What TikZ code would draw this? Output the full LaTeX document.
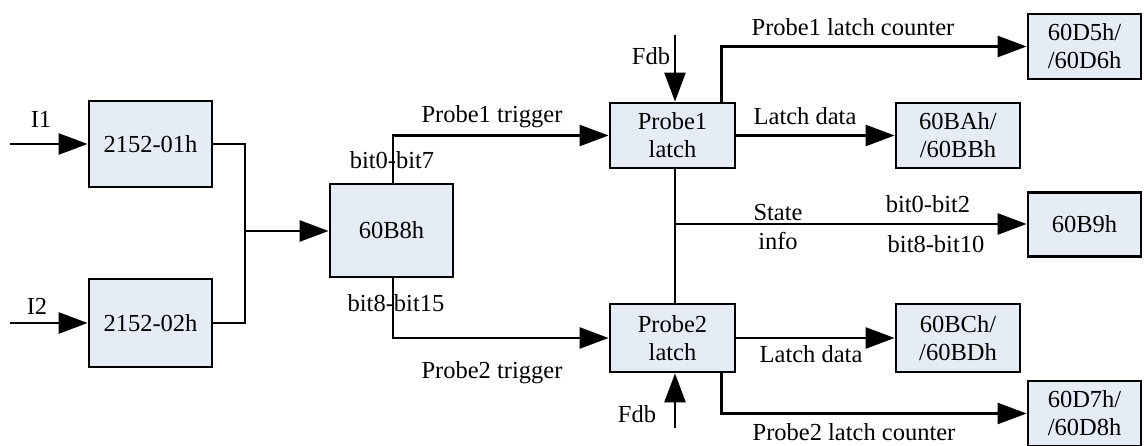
\documentclass[tikz,border=0pt]{standalone}
\usepackage{fontspec}
\setmainfont{Liberation Serif}
\usetikzlibrary{arrows.meta,positioning,calc}
\definecolor{blkfill}{HTML}{E6ECF6}

\begin{document}
\begin{tikzpicture}[
    x=1pt, y=-1pt,
    font=\fontsize{24.5}{28}\selectfont,
    blk/.style={draw, line width=2.8pt, fill=blkfill, align=center, inner sep=0pt},
    wire/.style={line width=2.6pt},
    sig/.style={wire, -{Triangle[length=29pt,width=21pt]}},
    lbl/.style={inner sep=0pt, anchor=base}
]
    \useasboundingbox (0,0) rectangle (1144,446);

    % blocks
    \node[blk, minimum width=123pt, minimum height=86pt] (r01) at (150.5,144) {2152-01h};
    \node[blk, minimum width=123pt, minimum height=88pt] (r02) at (150.5,323) {2152-02h};
    \node[blk, minimum width=123pt, minimum height=93pt] (b8) at (391.5,230.5) {60B8h};
    \node[blk, minimum width=125pt, minimum height=65pt] (p1) at (672.5,135.5) {Probe1\\latch};
    \node[blk, minimum width=125pt, minimum height=68pt] (p2) at (672.5,338) {Probe2\\latch};
    \node[blk, minimum width=124pt, minimum height=65pt] (ba) at (958,135.5) {60BAh/\\/60BBh};
    \node[blk, minimum width=124pt, minimum height=68pt] (bc) at (958,338) {60BCh/\\/60BDh};
    \node[blk, minimum width=113pt, minimum height=65pt] (d5) at (1084.5,46.5) {60D5h/\\/60D6h};
    \node[blk, minimum width=113pt, minimum height=64pt] (b9) at (1084.5,224.5) {60B9h};
    \node[blk, minimum width=113pt, minimum height=65pt] (d7) at (1084.5,413.5) {60D7h/\\/60D8h};

    \coordinate (in1) at (10,144);
    \coordinate (in2) at (10,323);
    \coordinate (jn) at (245,231);
    \coordinate (fdbA) at (675,35);
    \coordinate (fdbB) at (675,428);
    \coordinate (st) at (675,224);

    % inputs
    \draw[sig] (in1) -- (r01);
    \draw[sig] (in2) -- (r02);
    \draw[wire] (r01.east) -| (jn);
    \draw[wire] (r02.east) -| (jn);
    \draw[sig] (jn) -- (jn -| b8.west);

    % triggers
    \draw[sig] ([xshift=1.5pt]b8.north) |- (p1.west);
    \draw[sig] ([xshift=1.5pt]b8.south) |- (p2.west);

    % feedback
    \draw[sig] (fdbA) -- (fdbA |- p1.north);
    \draw[sig] (fdbB) -- (fdbB |- p2.south);

    % latch outputs
    \draw[sig] (p1) -- (ba);
    \draw[sig] (p2) -- (bc);
    \draw[sig] ([xshift=-15pt]p1.north east) |- (d5.west);
    \draw[sig] ([xshift=-15pt]p2.south east) |- (d7.west);
    \draw[wire] (fdbA |- p1.south) -- (fdbA |- p2.north);
    \draw[sig] (st) -- (st -| b9.west);

    % labels
    \node[lbl] (lI1) at (41,128) {I1};
    \node[lbl] (lI2) at (37,315) {I2};
    \node[lbl] (lbitlo) at (392,169) {bit0-bit7};
    \node[lbl] (lbithi) at (396,312) {bit8-bit15};
    \node[lbl] (ltrig1) at (492,123) {Probe1 trigger};
    \node[lbl] (ltrig2) at (492,379) {Probe2 trigger};
    \node[lbl] (lfdb1) at (651,65) {Fdb};
    \node[lbl] (lfdb2) at (637,422) {Fdb};
    \node[lbl] (lcnt1) at (853,36) {Probe1 latch counter};
    \node[lbl] (lcnt2) at (854,440) {Probe2 latch counter};
    \node[lbl] (ldat1) at (805,125) {Latch data};
    \node[lbl] (ldat2) at (811,363) {Latch data};
    \node[lbl] (lstate) at (778,221) {State};
    \node[lbl] (linfo) at (778,250) {info};
    \node[lbl] (lsb1) at (928,213) {bit0-bit2};
    \node[lbl] (lsb2) at (936,253) {bit8-bit10};
\end{tikzpicture}
\end{document}
